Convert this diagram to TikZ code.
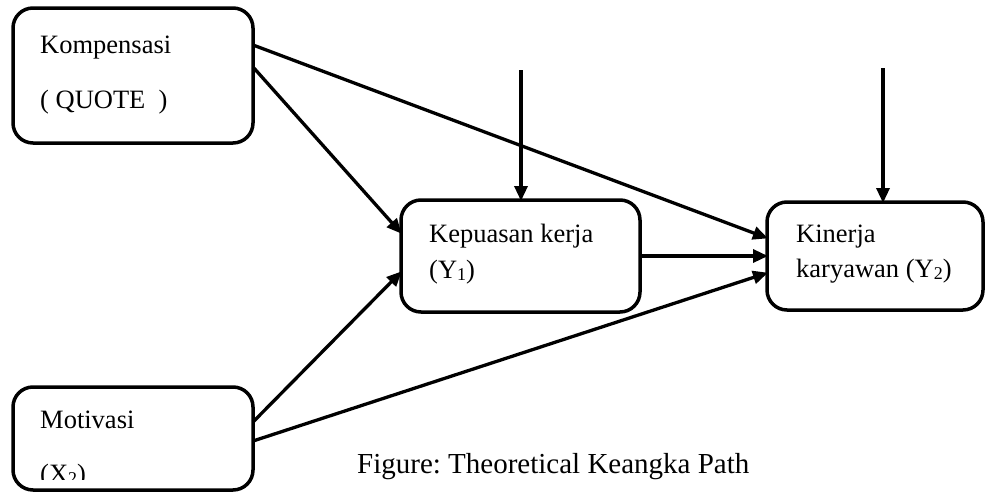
\documentclass[tikz,border=0pt]{standalone}
\usepackage{fontspec}
\setmainfont{Liberation Serif}
\usetikzlibrary{arrows.meta}
\frenchspacing
\tikzset{
  box/.style={draw, line width=3.5pt, rounded corners=20pt, inner sep=0pt, outer sep=0pt},
  lbl/.style={anchor=base west, inner sep=0pt, font=\fontsize{26.5}{30}\selectfont},
  conn/.style={line width=3.3pt, -{Triangle[length=15pt,width=13pt]}, shorten >=-1pt},
}
\newcommand{\sbx}[1]{\raisebox{-2pt}{\fontsize{18}{18}\selectfont #1}}
\begin{document}
\begin{tikzpicture}[x=1pt,y=-1pt]
\useasboundingbox (0,0) rectangle (998,498);
\node[box, minimum width=240pt, minimum height=135pt] (k) at (133,75.5) {};
\node[box, minimum width=240pt, minimum height=103pt] (m) at (133,438.5) {};
\node[box, minimum width=239pt, minimum height=112pt] (p) at (520.5,256) {};
\node[box, minimum width=216pt, minimum height=108pt] (y) at (875,256) {};

\node[lbl] (kt1) at (40,53) {Kompensasi};
\node[lbl] (kt2) at (40,108) {( QUOTE \ )};
\node[lbl] (mt1) at (40,428) {Motivasi};
\begin{scope}
\clip (0,0) rectangle (998,479);
\node[lbl] (mt2) at (40,482) {(X\sbx{2})};
\end{scope}
\node[lbl] (pt1) at (429,242) {Kepuasan kerja};
\node[lbl] (pt2) at (429,278) {(Y\sbx{1})};
\node[lbl] (yt1) at (796,242) {Kinerja};
\node[lbl] (yt2) at (796,277) {karyawan (Y\sbx{2})};
\node[lbl, font=\fontsize{29}{32}\selectfont] (cap) at (357,473) {Figure: Theoretical Keangka Path};

\coordinate (ep) at (521,70);
\coordinate (ey) at (883,68);

\draw[conn] ([yshift=30.5pt]k.east) -- ([yshift=18pt]y.west);
\draw[conn] ([yshift=8.5pt]k.east) -- ([yshift=23pt]p.west);
\draw[conn] ([yshift=16.5pt]m.east) -- ([yshift=-16pt]p.west);
\draw[conn] ([yshift=-2.5pt]m.east) -- ([yshift=-17pt]y.west);
\draw[conn] (p.east) -- (y.west);
\draw[conn] (ep) -- (ep |- p.north);
\draw[conn] (ey) -- (ey |- y.north);
\end{tikzpicture}
\end{document}
